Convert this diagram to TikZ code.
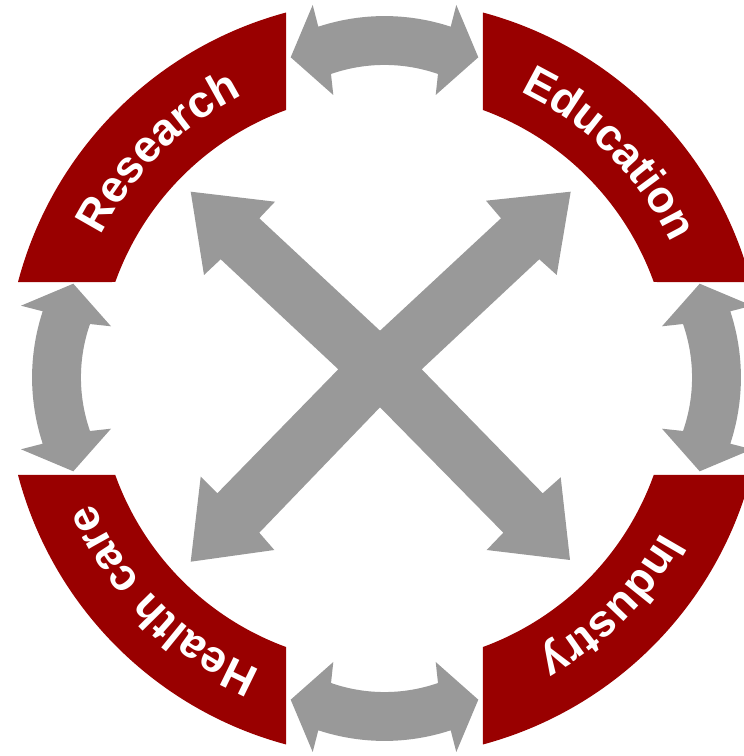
\documentclass[tikz,border=0pt]{standalone}
\usepackage{fontspec}
\newfontfamily\labelfont{Liberation Sans}
\usetikzlibrary{decorations.text}
\definecolor{sectorred}{RGB}{153,0,0}
\definecolor{arrowgray}{RGB}{153,153,153}
\tikzset{
  sector/.style={fill=sectorred, draw=none},
  grayarrow/.style={fill=arrowgray, draw=none},
  labelpath/.style={decorate, decoration={text along path, text align=center, text color=white,
      text={|\labelfont\bfseries\fontsize{45pt}{45pt}\selectfont|#1}}},
  gaparrow/.pic={
    \fill[grayarrow] (66.2pt,13.8pt) arc[start angle=71.76, end angle=108.24, radius=211.5pt]
      -- (-71.8pt,35.5pt) -- (-93.8pt,-16.8pt) -- (-51.2pt,-54.5pt) -- (-53.5pt,-33.5pt)
      arc[start angle=109.22, end angle=70.78, radius=162.5pt]
      -- (51.2pt,-54.5pt) -- (93.8pt,-16.8pt) -- (71.8pt,35.5pt) -- cycle;
  }
}
\begin{document}
\begin{tikzpicture}[x=1pt,y=1pt]
\useasboundingbox (0,0) rectangle (744,756);
\clip (0,0) rectangle (744,756);
\coordinate (C) at (384.5,377.5);
% ring sectors
\begin{scope}[shift={(C)}]
  \fill[sector] (105.06:379pt) arc[start angle=105.06, end angle=165.25, radius=379pt]
    -- (160.28:286pt) arc[start angle=160.28, end angle=110.14, radius=286pt] -- cycle;
  \fill[sector] (74.94:379pt) arc[start angle=74.94, end angle=14.75, radius=379pt]
    -- (19.72:286pt) arc[start angle=19.72, end angle=69.86, radius=286pt] -- cycle;
  \fill[sector] (-14.75:379pt) arc[start angle=-14.75, end angle=-74.94, radius=379pt]
    -- (-69.86:286pt) arc[start angle=-69.86, end angle=-19.72, radius=286pt] -- cycle;
  \fill[sector] (-105.06:379pt) arc[start angle=-105.06, end angle=-165.25, radius=379pt]
    -- (-160.28:286pt) arc[start angle=-160.28, end angle=-110.14, radius=286pt] -- cycle;
  % labels
  \path[labelpath=Research] (178:317pt) arc[start angle=178, end angle=92, radius=317pt];
  \path[labelpath=Education] (88:317pt) arc[start angle=88, end angle=2, radius=317pt];
  \path[labelpath=Industry] (-2:317pt) arc[start angle=-2, end angle=-88, radius=317pt];
  \path[labelpath=Health care] (-92:317pt) arc[start angle=-92, end angle=-178, radius=317pt];
\end{scope}
% curved gap arrows
\path (C) ++(0,338) pic{gaparrow};
\path (C) ++(0,-338) pic[rotate=180]{gaparrow};
\path (C) ++(-328,1) pic[rotate=90]{gaparrow};
\path (C) ++(332,1) pic[rotate=-90]{gaparrow};
% central X
\begin{scope}[yscale=-1, yshift=-756pt]
\fill[grayarrow] (190.7,191.7) -- (275,201.7) -- (259.3,218.3) -- (380,330.7)
  -- (501,218.3) -- (486,200.7) -- (570.7,191.7) -- (556.7,275) -- (539.3,259.3)
  -- (421.7,369.3) -- (542.7,493.3) -- (560.7,477.3) -- (570,560) -- (486.7,550)
  -- (503.3,532.7) -- (380,407.3) -- (259.3,532.7) -- (274.3,550) -- (190.7,561.7)
  -- (200.7,476.7) -- (217.3,493.3) -- (338.3,369.3) -- (220.7,259.3) -- (204,275) -- cycle;
\end{scope}
\end{tikzpicture}
\end{document}
